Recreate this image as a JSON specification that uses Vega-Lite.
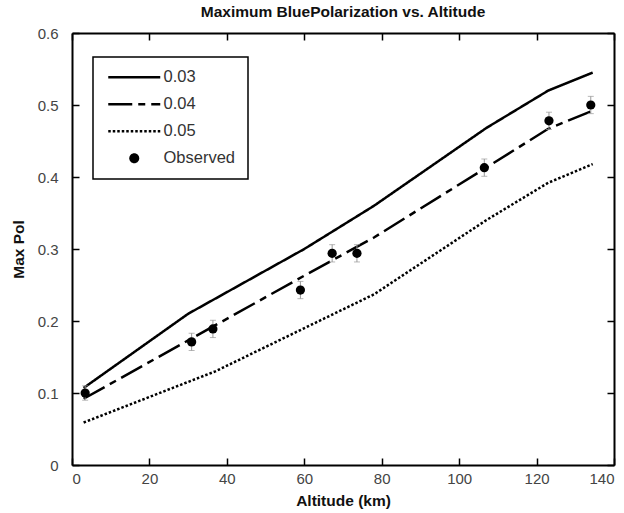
{
  "$schema": "https://vega.github.io/schema/vega-lite/v6.json",
  "width": 542,
  "height": 432,
  "autosize": {"type": "none"},
  "padding": {"left": 72, "top": 33, "right": 10, "bottom": 48},
  "background": "white",
  "title": {"text": "Maximum BluePolarization vs. Altitude", "fontSize": 15.5, "fontWeight": "bold", "font": "Liberation Sans", "offset": 6, "color": "#111"},
  "config": {
    "view": {"stroke": null},
    "font": "Liberation Sans",
    "axis": {
      "domainColor": "black", "domainWidth": 2, "tickColor": "black", "tickWidth": 1.5, "tickSize": -7,
      "grid": false, "labelFont": "Liberation Sans", "labelFontSize": 15, "labelColor": "#444",
      "titleFont": "Liberation Sans", "titleFontSize": 15.5, "titleFontWeight": "bold", "titleColor": "#111"
    }
  },
  "resolve": {"axis": {"x": "independent", "y": "independent"}},
  "datasets": {
    "lines": [
      {"series": "0.03", "alt": 3, "pol": 0.107},
      {"series": "0.03", "alt": 30, "pol": 0.21},
      {"series": "0.03", "alt": 60, "pol": 0.30},
      {"series": "0.03", "alt": 78, "pol": 0.36},
      {"series": "0.03", "alt": 107, "pol": 0.468},
      {"series": "0.03", "alt": 123, "pol": 0.52},
      {"series": "0.03", "alt": 134.5, "pol": 0.545},
      {"series": "0.04", "alt": 3, "pol": 0.092},
      {"series": "0.04", "alt": 30, "pol": 0.173},
      {"series": "0.04", "alt": 60, "pol": 0.263},
      {"series": "0.04", "alt": 78, "pol": 0.316},
      {"series": "0.04", "alt": 107, "pol": 0.413},
      {"series": "0.04", "alt": 123, "pol": 0.467},
      {"series": "0.04", "alt": 134.5, "pol": 0.492},
      {"series": "0.05", "alt": 3, "pol": 0.059},
      {"series": "0.05", "alt": 37, "pol": 0.13},
      {"series": "0.05", "alt": 55, "pol": 0.177},
      {"series": "0.05", "alt": 78, "pol": 0.237},
      {"series": "0.05", "alt": 107, "pol": 0.34},
      {"series": "0.05", "alt": 123, "pol": 0.392},
      {"series": "0.05", "alt": 134.5, "pol": 0.418}
    ],
    "observed": [
      {"alt": 3.4, "pol": 0.100, "lo": 0.090, "hi": 0.110},
      {"alt": 30.9, "pol": 0.171, "lo": 0.159, "hi": 0.183},
      {"alt": 36.4, "pol": 0.189, "lo": 0.177, "hi": 0.201},
      {"alt": 59, "pol": 0.243, "lo": 0.231, "hi": 0.255},
      {"alt": 67.2, "pol": 0.294, "lo": 0.282, "hi": 0.306},
      {"alt": 73.6, "pol": 0.294, "lo": 0.282, "hi": 0.306},
      {"alt": 106.5, "pol": 0.413, "lo": 0.401, "hi": 0.425},
      {"alt": 123.2, "pol": 0.478, "lo": 0.466, "hi": 0.490},
      {"alt": 134, "pol": 0.500, "lo": 0.488, "hi": 0.512}
    ]
  },
  "layer": [
    {
      "data": {"name": "lines"},
      "mark": {"type": "line", "color": "black", "strokeWidth": 2.5},
      "encoding": {
        "x": {"field": "alt", "type": "quantitative", "scale": {"domain": [0, 140], "nice": false},
          "axis": {"orient": "bottom", "title": "Altitude (km)", "values": [0, 20, 40, 60, 80, 100, 120, 140], "labelPadding": 13, "titlePadding": 7}},
        "y": {"field": "pol", "type": "quantitative", "scale": {"domain": [0, 0.6], "nice": false},
          "axis": {"orient": "left", "title": "Max Pol", "values": [0, 0.1, 0.2, 0.3, 0.4, 0.5, 0.6], "labelExpr": "datum.value == 0 ? '0' : format(datum.value, '.1f')", "labelPadding": 21, "titlePadding": 11}},
        "strokeDash": {"field": "series", "type": "nominal",
          "scale": {"domain": ["0.03", "0.04", "0.05", "Observed"], "range": [[1, 0], [24, 6, 7, 6], [2.5, 2], [1, 0]]},
          "legend": {
            "orient": "none", "legendX": 21, "legendY": 24, "title": null,
            "symbolSize": 100, "symbolStrokeWidth": 2.5, "symbolStrokeColor": "black",
            "labelFontSize": 16.5, "labelColor": "#333", "labelFont": "Liberation Sans", "labelOffset": 42,
            "rowPadding": 10, "padding": 12, "fillColor": "white", "strokeColor": "black",
            "encode": {
              "symbols": {"update": {
                "shape": {"signal": "datum.value === 'Observed' ? 'M5.2,0A1,1 0 1,1 3.2,0A1,1 0 1,1 5.2,0Z' : 'M-1,0H9.4'"},
                "fill": {"signal": "datum.value === 'Observed' ? 'black' : 'transparent'"},
                "stroke": {"value": "black"},
                "strokeWidth": {"signal": "datum.value === 'Observed' ? 0 : 2.5"}
              }},
              "legend": {"update": {"strokeWidth": {"value": 1.5}}}
            }
          }
        },
        "detail": {"field": "series"}
      }
    },
    {
      "data": {"name": "observed"},
      "mark": {"type": "errorbar", "color": "#999", "ticks": {"size": 6, "color": "#999"}},
      "encoding": {
        "x": {"field": "alt", "type": "quantitative", "axis": null},
        "y": {"field": "lo", "type": "quantitative", "axis": null},
        "y2": {"field": "hi"}
      }
    },
    {
      "data": {"name": "observed"},
      "mark": {"type": "point", "filled": true, "color": "black", "size": 85, "opacity": 1},
      "encoding": {
        "x": {"field": "alt", "type": "quantitative", "axis": null},
        "y": {"field": "pol", "type": "quantitative", "axis": null}
      }
    },
    {
      "data": {"name": "observed"},
      "mark": {"type": "point", "opacity": 0},
      "encoding": {
        "x": {"field": "alt", "type": "quantitative",
          "axis": {"orient": "top", "labels": false, "title": null, "values": [0, 20, 40, 60, 80, 100, 120, 140]}},
        "y": {"field": "pol", "type": "quantitative",
          "axis": {"orient": "right", "labels": false, "title": null, "values": [0, 0.1, 0.2, 0.3, 0.4, 0.5, 0.6]}}
      }
    }
  ]
}
